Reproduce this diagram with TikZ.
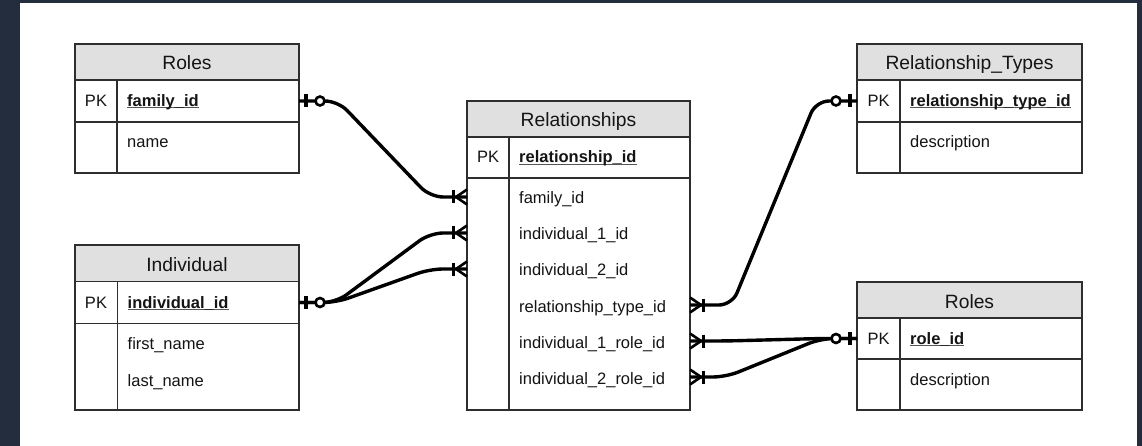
\documentclass[tikz,border=0pt]{standalone}
\usepackage{fontspec}
\setmainfont{Liberation Sans}
\usetikzlibrary{calc}
\definecolor{framebg}{HTML}{232D3E}
\definecolor{hdrfill}{HTML}{E0E0E0}
\definecolor{boxline}{HTML}{2E2E2E}
\definecolor{txt}{HTML}{141414}
\definecolor{ulgray}{HTML}{555555}
\newcommand\pkul[1]{\setbox0\hbox{#1}\rlap{\color{ulgray}\rule[-1.8pt]{\wd0}{1.2pt}}\box0}
\newcommand\markOneOpt[2]{%
  \begin{scope}[shift={(#1)}, xscale=#2]
    \draw[markln] (7,-6.5) -- (7,6.5);
    \draw[markln, line width=2.6pt, fill=white] (21,0) circle[radius=4.5pt];
  \end{scope}}
\newcommand\markManyMand[2]{%
  \begin{scope}[shift={(#1)}, xscale=#2]
    \draw[markln, line width=2.6pt] (0,-7.5) -- (11,0) -- (0,7.5);
    \draw[markln, line width=2.6pt] (0,0) -- (11,0);
    \draw[markln] (13.5,-6.5) -- (13.5,6.5);
  \end{scope}}
\tikzset{
  tbl/.style={draw=boxline, line width=1.4pt, fill=white, inner sep=0pt, outer sep=0pt, anchor=north west},
  hdr/.style={tbl, fill=hdrfill},
  boxln/.style={draw=boxline, line width=1.4pt},
  ttl/.style={anchor=base, inner sep=0pt, text=txt, font=\fontsize{19.25}{21}\selectfont},
  pk/.style={anchor=base, inner sep=0pt, text=txt, font=\fontsize{16.5}{18}\selectfont},
  fld/.style={anchor=base west, inner sep=0pt, text=txt, font=\fontsize{16.5}{18}\selectfont},
  conn/.style={draw=black, line width=3.4pt, rounded corners=13pt, line join=round},
  markln/.style={draw=black, line width=3.2pt},
}
\begin{document}
\begin{tikzpicture}[x=1pt,y=-1pt]
\useasboundingbox (0,0) rectangle (1142,446);
\fill[framebg] (0,0) rectangle (1142,446);
\fill[white] (20,3) rectangle (1137,446);

% ---------- Roles (top left)
\node[tbl, minimum width=224pt, minimum height=129pt] (R1) at (75,44) {};
\node[hdr, minimum width=224pt, minimum height=36pt] (R1h) at (75,44) {};
\draw[boxln] (75,122) -- (299,122);
\draw[boxln] (117,80) -- (117,173);
\node[ttl] (R1t) at (187,70) {Roles};
\node[pk] (R1pk) at (96,106.5) {PK};
\node[fld] (R1id) at (127,106.5) {\pkul{\textbf{family\_id}}};
\node[fld] (R1f1) at (127,148) {name};

% ---------- Individual
\node[tbl, minimum width=224pt, minimum height=165pt] (I) at (75,245) {};
\node[hdr, minimum width=224pt, minimum height=36.5pt] (Ih) at (75,245) {};
\draw[boxln] (75,323.5) -- (299,323.5);
\draw[boxln] (117.5,281.5) -- (117.5,410);
\node[ttl] (It) at (187,271) {Individual};
\node[pk] (Ipk) at (96,308) {PK};
\node[fld] (Iid) at (127.5,308) {\pkul{\textbf{individual\_id}}};
\node[fld] (If1) at (127.5,349) {first\_name};
\node[fld] (If2) at (127.5,386) {last\_name};

% ---------- Relationships
\node[tbl, minimum width=223pt, minimum height=309pt] (Rel) at (467,101) {};
\node[hdr, minimum width=223pt, minimum height=36pt] (Relh) at (467,101) {};
\draw[boxln] (467,178) -- (690,178);
\draw[boxln] (509,137) -- (509,410);
\node[ttl] (Relt) at (578.5,127) {Relationships};
\node[pk] (Relpk) at (488,163) {PK};
\node[fld] (Relid) at (519,163) {\pkul{\textbf{relationship\_id}}};
\node[fld] (Relf1) at (519,204) {family\_id};
\node[fld] (Relf2) at (519,240) {individual\_1\_id};
\node[fld] (Relf3) at (519,276) {individual\_2\_id};
\node[fld] (Relf4) at (519,312) {relationship\_type\_id};
\node[fld] (Relf5) at (519,348) {individual\_1\_role\_id};
\node[fld] (Relf6) at (519,384) {individual\_2\_role\_id};

% ---------- Relationship_Types
\node[tbl, minimum width=225pt, minimum height=129pt] (RT) at (857,44) {};
\node[hdr, minimum width=225pt, minimum height=36pt] (RTh) at (857,44) {};
\draw[boxln] (857,122) -- (1082,122);
\draw[boxln] (900,80) -- (900,173);
\node[ttl] (RTt) at (969.5,70) {Relationship\_Types};
\node[pk] (RTpk) at (878.5,106.5) {PK};
\node[fld] (RTid) at (910,106.5) {\pkul{\textbf{relationship\_type\_id}}};
\node[fld] (RTf1) at (910,148) {description};

% ---------- Roles (right)
\node[tbl, minimum width=225pt, minimum height=128pt] (RO) at (857,282) {};
\node[hdr, minimum width=225pt, minimum height=36pt] (ROh) at (857,282) {};
\draw[boxln] (857,359) -- (1082,359);
\draw[boxln] (900,318) -- (900,410);
\node[ttl] (ROt) at (969.5,308) {Roles};
\node[pk] (ROpk) at (878.5,344) {PK};
\node[fld] (ROid) at (910,344) {\pkul{\textbf{role\_id}}};
\node[fld] (ROf1) at (910,385) {description};

% ---------- connection points
\coordinate (R1e) at (R1.east |- 0,101);
\coordinate (Ie) at (I.east |- 0,302.5);
\coordinate (RelFam) at (Rel.west |- 0,197);
\coordinate (RelI1) at (Rel.west |- 0,233);
\coordinate (RelI2) at (Rel.west |- 0,269);
\coordinate (RelRT) at (Rel.east |- 0,305);
\coordinate (RelR1) at (Rel.east |- 0,341);
\coordinate (RelR2) at (Rel.east |- 0,377);
\coordinate (RTw) at (RT.west |- 0,101);
\coordinate (ROw) at (RO.west |- 0,338.5);

% ---------- connectors
\draw[conn] (R1e) -- ($(R1e)+(39,0)$) -- ($(RelFam)+(-37,0)$) -- (RelFam);
\draw[conn] (Ie) -- ($(Ie)+(37,0)$) -- ($(RelI1)+(-37,0)$) -- (RelI1);
\draw[conn] (Ie) -- ($(Ie)+(37,0)$) -- ($(RelI2)+(-37,0)$) -- (RelI2);
\draw[conn] (RelRT) -- ($(RelRT)+(42,0)$) -- ($(RTw)+(-41,0)$) -- (RTw);
\draw[conn] (RelR1) -- ($(RelR1)+(36,0)$) -- ($(ROw)+(-36,0)$) -- (ROw);
\draw[conn] (RelR2) -- ($(RelR2)+(36,0)$) -- ($(ROw)+(-36,0)$) -- (ROw);

% ---------- markers
\markOneOpt{R1e}{1}
\markOneOpt{Ie}{1}
\markOneOpt{RTw}{-1}
\markOneOpt{ROw}{-1}
\markManyMand{RelFam}{-1}
\markManyMand{RelI1}{-1}
\markManyMand{RelI2}{-1}
\markManyMand{RelRT}{1}
\markManyMand{RelR1}{1}
\markManyMand{RelR2}{1}
\end{tikzpicture}
\end{document}
